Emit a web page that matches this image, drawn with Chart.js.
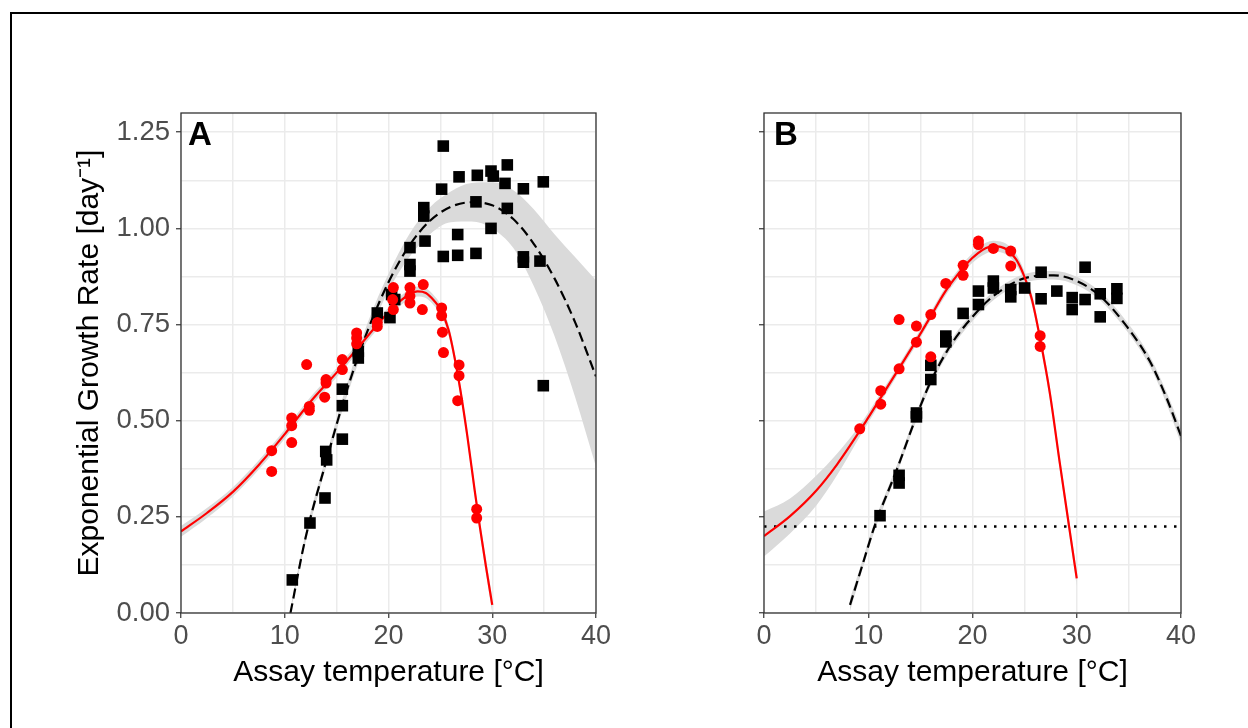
<!DOCTYPE html>
<html><head><meta charset="utf-8">
<script src="https://cdn.jsdelivr.net/npm/chart.js@4.4.0/dist/chart.umd.min.js"></script>
<style>
html,body{margin:0;padding:0;background:#fff;width:1248px;height:728px;overflow:hidden;}
#frame{position:absolute;left:10px;top:12px;width:1300px;height:800px;border-left:2px solid #000;border-top:2px solid #000;}
#ca{position:absolute;left:0;top:0;}
#cb{position:absolute;left:640px;top:0;}
</style></head><body>
<div id="frame"></div>
<canvas id="ca" width="640" height="728"></canvas>
<canvas id="cb" width="608" height="728"></canvas>
<script>
// ---------- data ----------
const xTitle = 'Assay temperature [°C]';
const yTitle = 'Exponential Growth Rate [day⁻¹]';
const panelLabels = ['A', 'B'];

// Panel A observations
const redA_x = [8.74,8.74,10.67,10.67,10.67,12.11,12.37,12.37,13.98,13.98,13.85,15.55,15.55,16.93,16.93,16.93,18.92,18.92,20.47,20.47,20.4,22.07,22.07,22.07,23.35,23.26,25.12,25.12,25.2,25.3,26.8,26.8,26.67,28.5,28.5];
const redA_y = [0.422,0.368,0.507,0.487,0.443,0.646,0.537,0.527,0.607,0.598,0.561,0.659,0.633,0.728,0.715,0.70,0.755,0.745,0.846,0.789,0.815,0.846,0.824,0.806,0.854,0.789,0.793,0.773,0.73,0.677,0.645,0.617,0.552,0.27,0.247];
const blkA_x = [10.73,12.43,13.88,13.95,14.04,15.55,15.55,15.55,17.09,17.09,18.92,20.14,20.3,20.6,22.07,22.07,22.07,23.52,23.4,23.4,25.28,25.12,25.28,26.8,26.67,26.67,28.56,28.43,28.43,29.88,30.1,29.88,31.45,31.23,31.45,33.0,33.0,33.0,34.92,34.6,34.92];
const blkA_y = [0.086,0.234,0.299,0.42,0.398,0.582,0.539,0.452,0.68,0.663,0.78,0.768,0.828,0.815,0.95,0.906,0.889,0.967,1.032,1.054,1.214,1.102,0.927,1.134,0.984,0.93,1.138,1.069,0.935,1.149,1.136,1.0,1.165,1.117,1.052,1.103,0.926,0.912,1.121,0.915,0.591];

// Panel A fitted curves
const redA_fx  = [0,2.5,5,7.5,10,12.5,15,17,19,20,21,22,22.8,23.6,24.4,25,25.8,26.8,27.6,28.3,28.8,29.4,30];
const redA_fit = [0.212,0.26,0.315,0.385,0.465,0.55,0.625,0.688,0.752,0.782,0.808,0.828,0.836,0.832,0.812,0.79,0.735,0.60,0.46,0.32,0.225,0.12,0.021];
const redA_lo  = [0.198,0.247,0.303,0.373,0.453,0.538,0.613,0.676,0.740,0.770,0.796,0.815,0.823,0.819,0.799,0.777,0.721,0.585,0.444,0.303,0.207,0.101,0.0];
const redA_hi  = [0.226,0.273,0.327,0.397,0.477,0.562,0.637,0.700,0.764,0.794,0.820,0.841,0.849,0.845,0.825,0.803,0.749,0.615,0.476,0.337,0.243,0.139,0.042];
const blkA_fx  = [10.55,12,14,16,18,20,22,24,26,28,30,32,34,36,38,40];
const blkA_fit = [0.0,0.195,0.395,0.58,0.735,0.86,0.955,1.02,1.056,1.068,1.06,1.025,0.96,0.87,0.755,0.615];
const blkA_lo  = [0.0,0.183,0.381,0.564,0.715,0.838,0.925,0.985,1.016,1.018,1.0,0.95,0.85,0.72,0.56,0.38];
const blkA_hi  = [0.012,0.207,0.409,0.596,0.755,0.882,0.985,1.055,1.096,1.118,1.12,1.10,1.05,0.985,0.925,0.865];

// Panel B observations
const redB_x = [9.18,11.2,11.2,12.96,12.96,14.62,14.62,16.0,16.0,17.44,19.1,19.1,20.57,20.57,22.0,23.67,23.67,26.49,26.49];
const redB_y = [0.479,0.543,0.578,0.635,0.763,0.746,0.704,0.776,0.666,0.857,0.904,0.878,0.967,0.958,0.948,0.941,0.902,0.721,0.693];
const blkB_x = [11.13,12.96,12.96,14.62,14.62,16.0,16.0,17.44,17.44,19.1,20.57,20.57,22.0,22.0,23.67,23.67,25.0,26.58,26.58,28.09,29.56,29.56,30.8,30.8,32.25,32.25,33.85,33.85];
const blkB_y = [0.253,0.358,0.338,0.51,0.52,0.644,0.607,0.72,0.705,0.779,0.837,0.802,0.863,0.845,0.841,0.822,0.845,0.886,0.817,0.837,0.82,0.789,0.899,0.815,0.83,0.77,0.843,0.818];

// Panel B fitted curves
const redB_fx  = [0,2.5,5,7,9.2,11.2,13,14.6,16,17.4,18.5,19.5,20.5,21.3,22,22.7,23.3,24.2,24.9,25.7,26.5,27.4,28.4,29.4,30];
const redB_fit = [0.2,0.252,0.318,0.386,0.474,0.56,0.638,0.708,0.772,0.836,0.877,0.91,0.935,0.949,0.954,0.952,0.945,0.919,0.88,0.815,0.711,0.575,0.385,0.2,0.09];
const redB_lo  = [0.147,0.207,0.279,0.358,0.459,0.548,0.627,0.697,0.761,0.825,0.866,0.898,0.922,0.935,0.94,0.938,0.931,0.905,0.866,0.8,0.696,0.558,0.368,0.182,0.07];
const redB_hi  = [0.264,0.298,0.357,0.414,0.489,0.572,0.649,0.719,0.783,0.847,0.888,0.922,0.948,0.963,0.968,0.966,0.959,0.933,0.894,0.83,0.726,0.592,0.402,0.218,0.11];
const blkB_fx  = [8.25,9.5,10.6,12.8,14.6,16,18,20,22,25.2,27.8,30,32.25,34.8,37,38.6,40];
const blkB_fit = [0.021,0.13,0.225,0.377,0.51,0.602,0.70,0.77,0.824,0.872,0.878,0.863,0.824,0.745,0.655,0.56,0.46];
const blkB_lo  = [0.005,0.118,0.213,0.366,0.499,0.591,0.689,0.759,0.813,0.861,0.867,0.852,0.813,0.733,0.642,0.545,0.44];
const blkB_hi  = [0.037,0.142,0.237,0.388,0.521,0.613,0.711,0.781,0.835,0.883,0.889,0.874,0.835,0.757,0.668,0.575,0.48];
const thresholdB_x = [0, 40];
const thresholdB_y = [0.225, 0.225];

// ---------- helpers ----------
const FONT = '"Liberation Sans", Arial, Helvetica, sans-serif';
const RED = '#ff0000', BLACK = '#000000', BAND = '#dadada';
function pts(xs, ys){ return xs.map((x,i)=>({x:x, y:ys[i]})); }
function isMult(v, step){ const r = v/step; return Math.abs(r-Math.round(r))<1e-6; }

function pointsDs(data, color, style, radius){
  return {data, pointStyle:style, pointRadius:radius, pointHoverRadius:radius,
          pointBackgroundColor:color, pointBorderColor:color, pointBorderWidth:0, showLine:false};
}
function lineDs(data, color, dash, width){
  return {data, showLine:true, borderColor:color, borderWidth:width||2.2, borderDash:dash||[],
          pointRadius:0, pointHoverRadius:0, cubicInterpolationMode:'monotone', fill:false};
}
function bandDs(data, fillTo){
  return {data, showLine:true, borderWidth:0, borderColor:'rgba(0,0,0,0)', pointRadius:0, pointHoverRadius:0,
          cubicInterpolationMode:'monotone', fill:(fillTo===undefined?false:fillTo), backgroundColor:BAND};
}

const panelPlugin = {
  id:'panel',
  afterDraw(chart, args, opts){
    const ctx = chart.ctx, a = chart.chartArea;
    ctx.save();
    ctx.strokeStyle = '#333333'; ctx.lineWidth = 1.3;
    ctx.strokeRect(a.left, a.top, a.right-a.left, a.bottom-a.top);
    ctx.font = 'bold 33px ' + FONT; ctx.fillStyle = '#000'; ctx.textBaseline = 'alphabetic';
    ctx.fillText(opts.label, a.left + opts.dx, a.top + 32);
    ctx.restore();
  }
};

function makeOptions(p){
  return {
    responsive:false, animation:false, devicePixelRatio:1,
    layout:{padding:{top:113, right:p.padRight, left:0, bottom:0}},
    plugins:{legend:{display:false}, tooltip:{enabled:false},
             filler:{drawTime:'beforeDatasetsDraw'}, panel:{label:p.label, dx:p.dx}},
    scales:{
      x:{type:'linear', min:0, max:40,
         afterFit:function(s){ s.height = 115; },
         ticks:{stepSize:5, autoSkip:false, maxRotation:0, includeBounds:false, color:'#4d4d4d', font:{family:FONT, size:27}, padding:2,
                callback:function(v){ return isMult(v,10) ? String(v) : ''; }},
         grid:{color:'#ebebeb', lineWidth:1.5, tickLength:5, tickWidth:1.2,
               tickColor:function(c){ return (c.tick && isMult(c.tick.value,10)) ? '#333333' : 'rgba(0,0,0,0)'; }},
         border:{display:false},
         title:{display:true, text:xTitle, color:'#000', font:{family:FONT, size:30}, padding:{top:0, bottom:37}}
      },
      y:{type:'linear', min:0, max:1.3,
         afterFit:function(s){ s.width = p.yWidth; },
         ticks:{stepSize:0.125, autoSkip:false, includeBounds:false, color:p.showY ? '#4d4d4d' : 'rgba(0,0,0,0)', font:{family:FONT, size:27.5}, padding:6,
                callback:function(v){ return isMult(v,0.25) ? v.toFixed(2) : ''; }},
         grid:{color:'#ebebeb', lineWidth:1.5, tickLength:5, tickWidth:1.2,
               tickColor:function(c){ return (c.tick && isMult(c.tick.value,0.25)) ? '#333333' : 'rgba(0,0,0,0)'; }},
         border:{display:false},
         title:{display:p.showY, text:yTitle, color:'#000', font:{family:FONT, size:30}, padding:{top:72, bottom:0}}
      }
    }
  };
}

// Panel A
new Chart(document.getElementById('ca'), {
  type:'scatter',
  data:{datasets:[
    pointsDs(pts(redA_x, redA_y), RED, 'circle', 5.5),          // 0
    pointsDs(pts(blkA_x, blkA_y), BLACK, 'rect', 8.2),          // 1
    lineDs(pts(redA_fx, redA_fit), RED, [], 2.2),               // 2
    lineDs(pts(blkA_fx, blkA_fit), BLACK, [10,5], 2.2),         // 3
    bandDs(pts(redA_fx, redA_lo)),                              // 4
    bandDs(pts(redA_fx, redA_hi), 4),                           // 5
    bandDs(pts(blkA_fx, blkA_lo)),                              // 6
    bandDs(pts(blkA_fx, blkA_hi), 6)                            // 7
  ]},
  options:makeOptions({padRight:44, yWidth:181, showY:true, label:panelLabels[0], dx:7}),
  plugins:[panelPlugin]
});

// Panel B
new Chart(document.getElementById('cb'), {
  type:'scatter',
  data:{datasets:[
    pointsDs(pts(redB_x, redB_y), RED, 'circle', 5.5),          // 0
    pointsDs(pts(blkB_x, blkB_y), BLACK, 'rect', 8.2),          // 1
    lineDs(pts(redB_fx, redB_fit), RED, [], 2.2),               // 2
    lineDs(pts(blkB_fx, blkB_fit), BLACK, [10,5], 2.2),         // 3
    lineDs(pts(thresholdB_x, thresholdB_y), BLACK, [2.5,7.5], 2.5), // 4
    bandDs(pts(redB_fx, redB_lo)),                              // 5
    bandDs(pts(redB_fx, redB_hi), 5),                           // 6
    bandDs(pts(blkB_fx, blkB_lo)),                              // 7
    bandDs(pts(blkB_fx, blkB_hi), 7)                            // 8
  ]},
  options:makeOptions({padRight:67, yWidth:124, showY:false, label:panelLabels[1], dx:10}),
  plugins:[panelPlugin]
});
</script>
</body></html>
